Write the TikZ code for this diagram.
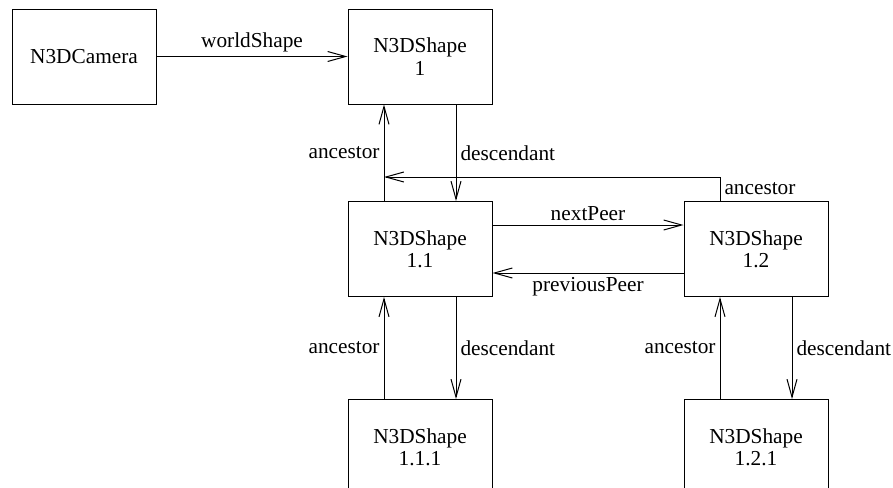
\documentclass[tikz,border=0pt]{standalone}
\usepackage{fontspec}
\setmainfont{Liberation Serif}
\usepackage{tikz}
\usetikzlibrary{calc, arrows.meta, positioning}

\begin{document}
\begin{tikzpicture}[x=0.5pt, y=-0.5pt, line width=0.5pt,
    >={Straight Barb[length=9pt, width=5pt]},
    objbox/.style={draw, minimum width=72pt, minimum height=47.5pt,
        align=center, inner sep=0pt,
        font=\fontsize{10.65}{11.2}\selectfont},
    lbl/.style={font=\fontsize{10.65}{12}\selectfont, inner sep=2pt}]

    % =================================================================
    % 1. BOUNDING BOX
    % =================================================================
    \useasboundingbox (0,0) rectangle (893,487);
    \clip (0,0) rectangle (893,487);

    % =================================================================
    % 2. CAMERA AND SHAPE OBJECTS
    % =================================================================
    \node[objbox] (cam)  at (84, 56.5)  {N3DCamera};
    \node[objbox] (s1)   at (420, 56.5) {N3DShape\\1};
    \node[objbox] (s11)  at (420, 249)  {N3DShape\\1.1};
    \node[objbox] (s12)  at (756, 249)  {N3DShape\\1.2};
    \node[objbox] (s111) at (420, 447)  {N3DShape\\1.1.1};
    \node[objbox] (s121) at (756, 447)  {N3DShape\\1.2.1};

    % =================================================================
    % 3. REFERENCES
    % =================================================================
    % Camera to world shape
    \draw[->] (cam) -- node[lbl, above] {worldShape} (s1);

    % Shape 1 and its descendant
    \draw[->] ([xshift=-18pt]s11.north) -- node[lbl, left] {ancestor} ([xshift=-18pt]s1.south);
    \draw[->] ([xshift=18pt]s1.south) -- node[lbl, right] {descendant} ([xshift=18pt]s11.north);

    % Ancestor of 1.2 joins the line of 1.1
    \draw[->] ([xshift=-18pt]s12.north) -- node[lbl, right] {ancestor} ++(0,-24)
        -- ([xshift=-18pt, yshift=12pt]s11.north);

    % Peers
    \draw[->] ([yshift=12pt]s11.east) -- node[lbl, above] {nextPeer} ([yshift=12pt]s12.west);
    \draw[->] ([yshift=-12pt]s12.west) -- node[lbl, below] {previousPeer} ([yshift=-12pt]s11.east);

    % Lower level
    \draw[->] ([xshift=-18pt]s111.north) -- node[lbl, left] {ancestor} ([xshift=-18pt]s11.south);
    \draw[->] ([xshift=18pt]s11.south) -- node[lbl, right] {descendant} ([xshift=18pt]s111.north);
    \draw[->] ([xshift=-18pt]s121.north) -- node[lbl, left] {ancestor} ([xshift=-18pt]s12.south);
    \draw[->] ([xshift=18pt]s12.south) -- node[lbl, right] {descendant} ([xshift=18pt]s121.north);

\end{tikzpicture}
\end{document}
